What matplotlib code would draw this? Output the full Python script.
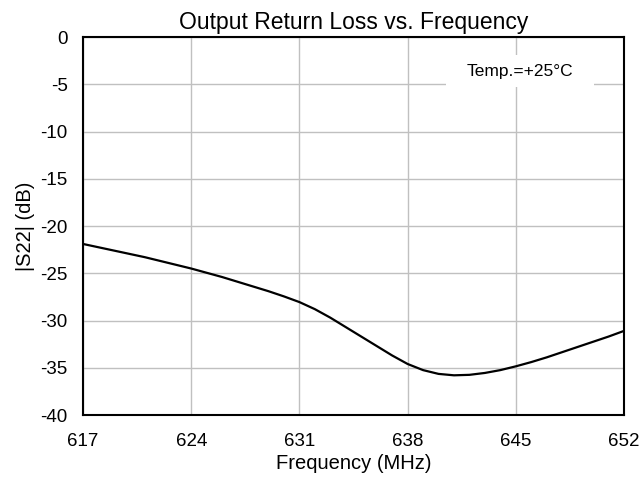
import matplotlib
matplotlib.use("Agg")
import matplotlib.pyplot as plt
from matplotlib.patches import Rectangle

plt.rcParams["font.family"] = ["Liberation Sans", "DejaVu Sans"]
plt.rcParams["axes.unicode_minus"] = False

frq = [617, 618, 619, 620, 621, 622, 623, 624, 625, 626, 627, 628, 629, 630,
       631, 632, 633, 634, 635, 636, 637, 638, 639, 640, 641, 642, 643, 644,
       645, 646, 647, 648, 649, 650, 651, 652]
s22 = [-21.9, -22.25, -22.6, -22.95, -23.3, -23.7, -24.1, -24.5, -24.95, -25.4,
       -25.9, -26.4, -26.9, -27.45, -28.05, -28.8, -29.7, -30.7, -31.7, -32.7,
       -33.7, -34.6, -35.25, -35.65, -35.8, -35.75, -35.55, -35.25, -34.85,
       -34.4, -33.9, -33.35, -32.8, -32.25, -31.7, -31.1]
xt = [617, 624, 631, 638, 645, 652]
yt = [0, -5, -10, -15, -20, -25, -30, -35, -40]


def main():
    fig = plt.figure(figsize=(6.43, 4.82), dpi=100)
    ax = fig.add_axes([83 / 643, 1 - 415 / 482, 541 / 643, 378 / 482])

    ax.plot(frq, s22, color="black", lw=1.6, zorder=3)
    ax.set_xlim(617, 652)
    ax.set_ylim(-40, 0)
    ax.set_xticks(xt)
    ax.set_yticks(yt)
    ax.tick_params(length=0, labelsize=13.5)
    ax.tick_params(axis="x", pad=13)
    ax.tick_params(axis="y", pad=11)
    ax.grid(True, color="#c0c0c0", lw=1)
    for s in ax.spines.values():
        s.set_linewidth(1.5)
        s.set_color("black")

    ax.set_title("Output Return Loss vs. Frequency", fontsize=16.5, pad=5.5)
    ax.set_xlabel("Frequency (MHz)", fontsize=14.5, labelpad=3)
    ax.set_ylabel("|S22| (dB)", fontsize=14.5, labelpad=4)

    # legend-like box that hides the grid
    ax.add_patch(Rectangle((0.671, 0.868), 0.274, 0.084, transform=ax.transAxes,
                           facecolor="white", edgecolor="none", zorder=2.5))
    ax.text(0.808, 0.91, "Temp.=+25°C", transform=ax.transAxes, fontsize=12.5,
            ha="center", va="center", zorder=4)

    fig.savefig("out.png", dpi=100)


if __name__ == "__main__":
    main()
